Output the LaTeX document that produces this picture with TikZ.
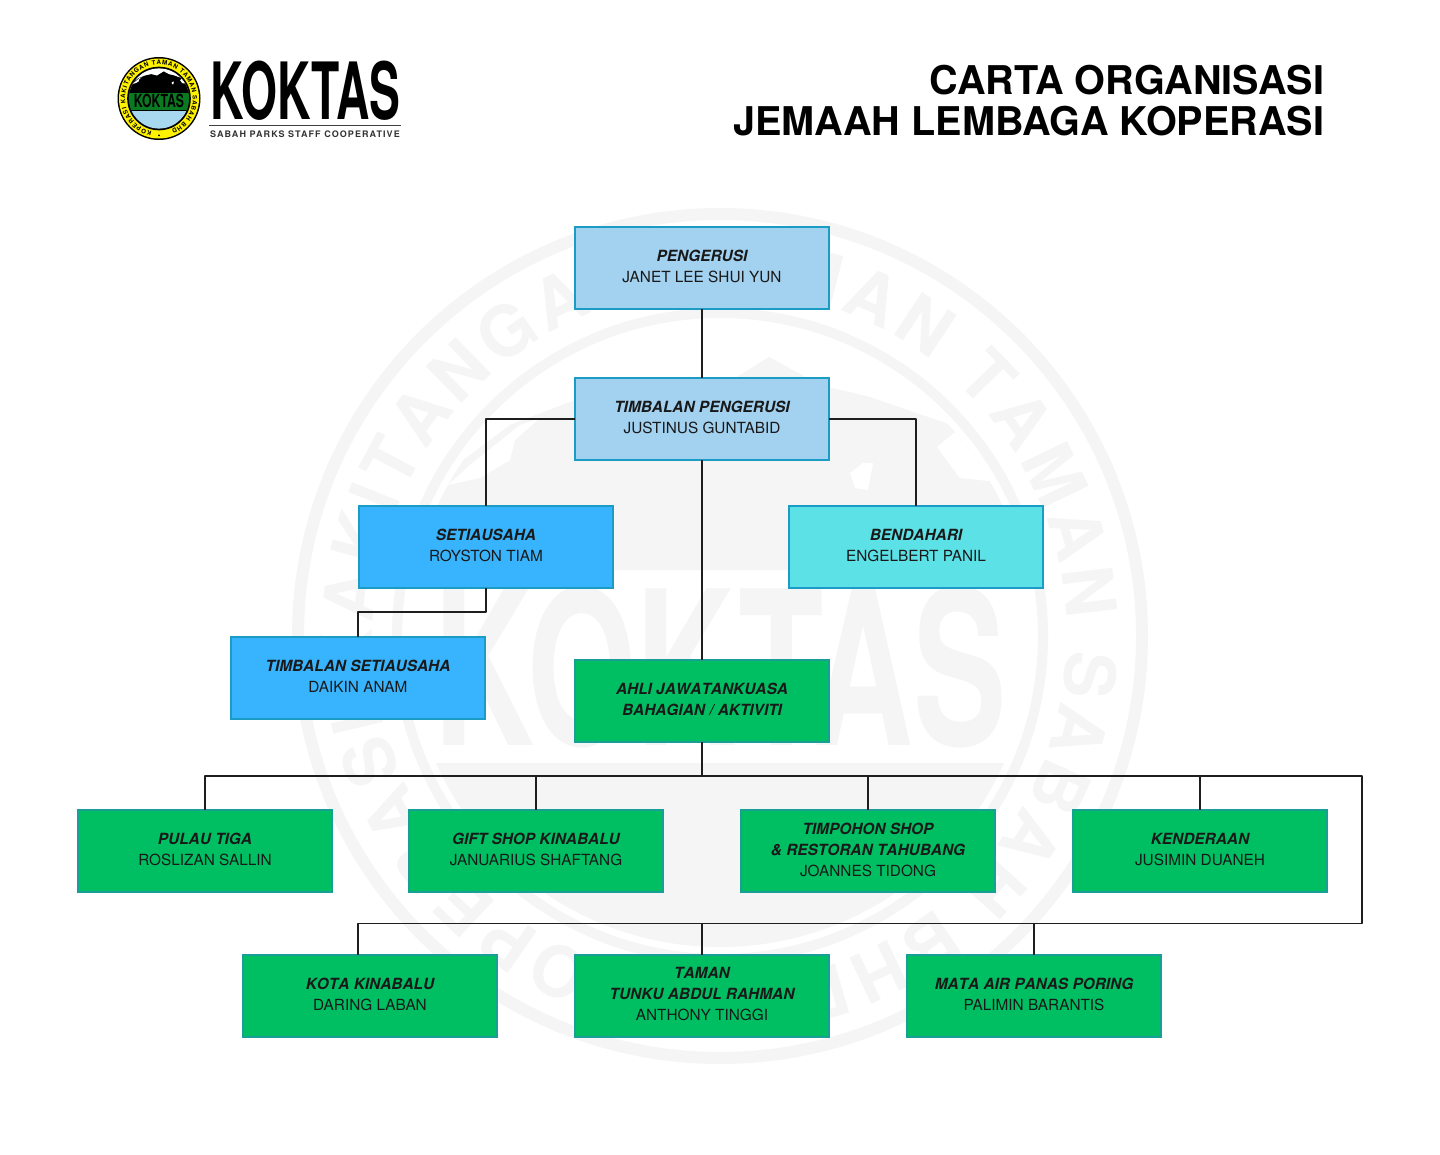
\documentclass[tikz,border=0pt]{standalone}
\usepackage{fontspec}
\setmainfont{TeX Gyre Heros}
\newfontfamily\trackfont[LetterSpace=12]{TeX Gyre Heros}
\usetikzlibrary{decorations.text,calc}
\definecolor{wm}{HTML}{F5F5F5}
\definecolor{lblue}{HTML}{A3D1F0}
\definecolor{mblue}{HTML}{38B4FF}
\definecolor{cyanbox}{HTML}{5CE1E6}
\definecolor{gbox}{HTML}{00BF63}
\definecolor{edgeb}{HTML}{1B9CC4}
\definecolor{edgeg}{HTML}{189F96}
\definecolor{linec}{HTML}{1E1E1E}
\definecolor{logoyel}{HTML}{FFF200}
\definecolor{logogrn}{HTML}{0A7A22}
\definecolor{logosky}{HTML}{A8D8F0}
\newcommand{\namefont}{\fontsize{15.35}{21}\selectfont}
\newcommand{\roleline}[1]{{\bfseries\itshape\addfontfeatures{Kerning=Off}\fontsize{15.4}{21}\selectfont #1}}
\newcommand{\mountainshape}{(402,-570) -- (450,-470) -- (510,-425) -- (575,-400) -- (640,-385) -- (700,-400) -- (769,-357) -- (820,-385) -- (870,-397) -- (960,-428) -- (1020,-500) -- (1045,-570) -- cycle}
\newcommand{\snowshape}{(448,-485) -- (470,-465) -- (495,-445) -- (520,-425) -- (540,-418) -- (515,-440) -- (510,-460) -- (480,-478) -- cycle (937,-447) -- (960,-428) -- (1007,-483) -- (960,-478) -- cycle (850,-473) -- (863,-463) -- (873,-463) -- (868,-490) -- (855,-488) -- cycle}
\tikzset{
  x=1pt,y=1pt,
  orgbox/.style={draw,line width=1.1pt,outer sep=0pt,minimum width=254pt,minimum height=82pt,inner sep=0pt,align=center,font=\namefont,text=black!90,anchor=north west,text depth=3.4pt},
  bluebox/.style={orgbox,fill=lblue,draw=edgeb},
  secbox/.style={orgbox,fill=mblue,draw=edgeb},
  treasbox/.style={orgbox,fill=cyanbox,draw=edgeb},
  greenbox/.style={orgbox,fill=gbox,draw=edgeg},
  link/.style={draw=linec,line width=1.5pt,line join=round},
  titletext/.style={font=\fontsize{39.6}{41}\selectfont\bfseries,align=right,anchor=north east,inner sep=0pt,text=black},
}
\begin{document}
\begin{tikzpicture}
\useasboundingbox (0,0) rectangle (1440,-1154);
\fill[white] (0,0) rectangle (1440,-1154);
% watermark
\draw[wm,line width=12pt] (720,-636) circle[radius=422];
\draw[wm,line width=10pt] (720,-636) circle[radius=323];
\begin{scope}
  \clip (720,-636) circle[radius=311];
  \fill[wm] \mountainshape;
  \fill[white] \snowshape;
  \fill[wm] (300,-763) rectangle (1140,-1000);
\end{scope}
\node[text=wm,font=\fontsize{215}{215}\selectfont\bfseries,inner sep=0pt] (wmword) at (720,-667) {\scalebox{0.65}[1]{KOKTAS}};
\path[decorate,decoration={text along path,text align={fit to path},
  text={|\fontsize{70}{70}\selectfont\bfseries\color{wm}|KOPERASI KAKITANGAN TAMAN TAMAN SABAH BHD}}]
  (720,-636) ++(258:347) arc[start angle=258,end angle=-78,radius=347];
% logo
\fill[black] (159,-98.5) circle[radius=41.5];
\fill[logoyel] (159,-98.5) circle[radius=40];
\begin{scope}[shift={(159,-98.5)},scale=.097,shift={(-720,636)}]
  \fill[black] (720,-636) circle[radius=328];
  \begin{scope}
    \clip (720,-636) circle[radius=310];
    \fill[white] (300,-300) rectangle (1140,-570);
    \fill[black] \mountainshape;
    \fill[white] \snowshape;
    \fill[logosky] (300,-763) rectangle (1140,-1000);
    \fill[logogrn] (300,-570) rectangle (1140,-763);
    \fill[black] (300,-560) rectangle (1140,-575);
    \fill[black] (300,-758) rectangle (1140,-768);
  \end{scope}
\end{scope}
\node[font=\fontsize{18}{18}\selectfont\bfseries,text=black,inner sep=0pt] (logoinner) at (159,-101) {\scalebox{0.68}[1]{KOKTAS}};
\path[decorate,decoration={text along path,text align={fit to path},
  text={|\fontsize{6.2}{6.2}\selectfont\bfseries|KOPERASI KAKITANGAN TAMAN TAMAN SABAH BHD}}]
  (159,-98.5) ++(258:33.8) arc[start angle=258,end angle=-68,radius=33.8];
\fill[black] (159,-135.3) circle[radius=1];
\node[font=\fontsize{79}{79}\selectfont\bfseries,inner sep=0pt,text=black] (logoword) at (305.5,-91) {\scalebox{0.585}[1]{KOKTAS}};
\coordinate (ruleL) at (209,-125);
\coordinate (ruleR) at (401,-125);
\draw[black!75,line width=.8pt] (ruleL) -- (ruleR);
\node[font=\fontsize{9}{9}\selectfont\trackfont\bfseries,inner sep=0pt,text=black!80] (logotag) at (305,-134) {SABAH PARKS STAFF COOPERATIVE};
% title
\node[titletext] (title) at (1324.5,-64.5) {CARTA ORGANISASI\\JEMAAH LEMBAGA KOPERASI};
% boxes
\node[bluebox] (peng) at (575,-227) {\roleline{PENGERUSI}\\JANET LEE SHUI YUN};
\node[bluebox] (timb) at (575,-378) {\roleline{TIMBALAN PENGERUSI}\\JUSTINUS GUNTABID};
\node[secbox] (setia) at (359,-506) {\roleline{SETIAUSAHA}\\ROYSTON TIAM};
\node[treasbox] (bend) at (789,-506) {\roleline{BENDAHARI}\\ENGELBERT PANIL};
\node[secbox] (tsetia) at (231,-637) {\roleline{TIMBALAN SETIAUSAHA}\\DAIKIN ANAM};
\node[greenbox] (ahli) at (575,-660) {\roleline{AHLI JAWATANKUASA}\\\roleline{BAHAGIAN / AKTIVITI}};
\node[greenbox] (pulau) at (78,-810) {\roleline{PULAU TIGA}\\ROSLIZAN SALLIN};
\node[greenbox] (gift) at (409,-810) {\roleline{GIFT SHOP KINABALU}\\JANUARIUS SHAFTANG};
\node[greenbox] (timp) at (741,-810) {\roleline{TIMPOHON SHOP}\\\roleline{\& RESTORAN TAHUBANG}\\JOANNES TIDONG};
\node[greenbox] (kend) at (1073,-810) {\roleline{KENDERAAN}\\JUSIMIN DUANEH};
\node[greenbox] (kota) at (243,-955) {\roleline{KOTA KINABALU}\\DARING LABAN};
\node[greenbox] (taman) at (575,-955) {\roleline{TAMAN}\\\roleline{TUNKU ABDUL RAHMAN}\\ANTHONY TINGGI};
\node[greenbox] (mata) at (907,-955) {\roleline{MATA AIR PANAS PORING}\\PALIMIN BARANTIS};
% connector helpers
\coordinate (jog) at (358,-612);
\coordinate (busA) at (702,-776);
\coordinate (busR) at (1362,-776);
\coordinate (busB) at (1362,-923.5);
\coordinate (busC) at (358,-923.5);
\coordinate (kotaTop) at (358,-955);
\coordinate (tl) at (486,-419);
\coordinate (tr) at (916,-419);
% connectors
\draw[link] (peng.south) -- (timb.north);
\draw[link] (timb.south) -- (ahli.north);
\draw[link] (timb.west) -- (tl) -- (setia.north);
\draw[link] (timb.east) -- (tr) -- (bend.north);
\draw[link] (setia.south) |- (jog) -- (tsetia.north);
\draw[link] (ahli.south) -- (busA);
\draw[link] (busA) -| (pulau.north);
\draw[link] (busA) -| (gift.north);
\draw[link] (busA) -| (timp.north);
\draw[link] (busA) -| (kend.north);
\draw[link] (busA) -- (busR) -- (busB) -- (busC) -- (kotaTop);
\draw[link] (busC -| taman.north) -- (taman.north);
\draw[link] (busC -| mata.north) -- (mata.north);
\end{tikzpicture}
\end{document}
